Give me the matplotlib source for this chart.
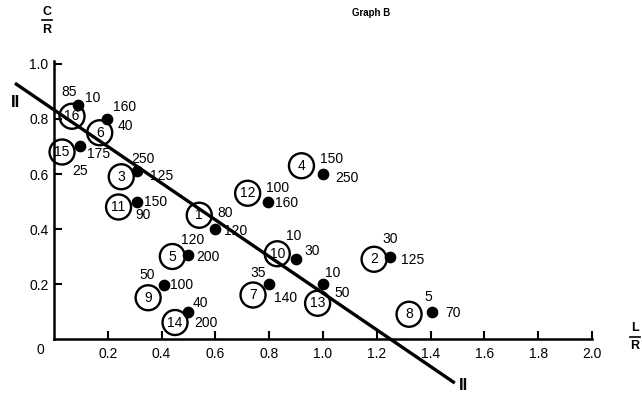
import matplotlib
matplotlib.use("Agg")
import matplotlib.pyplot as plt

# Circled case numbers and the position of each circle
case_ids = ["16", "6", "15", "3", "11", "1", "5", "9", "14", "12", "4", "10", "7", "13", "2", "8"]
circle_x = [0.067, 0.17, 0.03, 0.25, 0.24, 0.54, 0.44, 0.35, 0.45, 0.72, 0.92, 0.83, 0.74, 0.98, 1.19, 1.32]
circle_y = [0.81, 0.75, 0.68, 0.59, 0.48, 0.45, 0.30, 0.15, 0.06, 0.53, 0.63, 0.31, 0.16, 0.13, 0.29, 0.09]

# Data points (L/R, C/R) and their two numeric annotations
dot_x = [0.09, 0.197, 0.097, 0.31, 0.31, 0.60, 0.50, 0.41, 0.50, 0.795, 1.00, 0.90, 0.80, 1.00, 1.25, 1.405]
dot_y = [0.85, 0.80, 0.70, 0.61, 0.50, 0.40, 0.305, 0.196, 0.10, 0.50, 0.60, 0.29, 0.20, 0.20, 0.30, 0.098]
label_a = ["85", "160", "175", "250", "150", "80", "120", "50", "40", "100", "150", "10", "35", "10", "30", "5"]
label_b = ["10", "40", "25", "125", "90", "120", "200", "100", "200", "160", "250", "30", "140", "50", "125", "70"]

# Fitted line II
line_x = [-0.145, 1.49]
line_y = [0.93, -0.16]

x_ticks = [0.2, 0.4, 0.6, 0.8, 1.0, 1.2, 1.4, 1.6, 1.8, 2.0]
y_ticks = [0.2, 0.4, 0.6, 0.8, 1.0]

# label offsets in pixels (layout only)
off_a = [(-9, 13), (18, 12), (18, -8), (6, 12), (18, 0), (10, 16), (4, 15), (-17, 10),
         (12, 9), (10, 14), (9, 15), (-2, 23), (-11, 11), (10, 11), (0, 18), (-4, 15)]
off_b = [(14, 7), (18, -7), (0, -25), (24, -5), (6, -13), (20, -2), (19, -2), (17, 0),
         (17, -11), (19, -1), (24, -4), (16, 8), (16, -14), (19, -9), (22, -3), (21, -1)]

FONT = "Liberation Sans"

fig = plt.figure(figsize=(6.42, 3.98), dpi=100)
ax = fig.add_axes([0, 0, 1, 1])
ax.set_xlim(-0.2007, 2.186)
ax.set_ylim(-0.2145, 1.2327)

for side in ("top", "right"):
    ax.spines[side].set_visible(False)
ax.spines["left"].set_position(("data", 0))
ax.spines["bottom"].set_position(("data", 0))
ax.spines["left"].set_bounds(0, 1.01)
ax.spines["bottom"].set_bounds(0, 2.0)
for side in ("left", "bottom"):
    ax.spines[side].set_linewidth(1.8)

ax.set_xticks(x_ticks)
ax.set_xticklabels([f"{v:.1f}" for v in x_ticks], fontfamily=FONT, fontsize=10)
ax.set_yticks(y_ticks)
ax.set_yticklabels([f"{v:.1f}" for v in y_ticks], fontfamily=FONT, fontsize=10)
ax.tick_params(axis="both", direction="in", length=6, width=1.5, pad=4)
ax.tick_params(axis="x", pad=6)
ax.text(-0.035, -0.015, "0", ha="right", va="top", fontfamily=FONT, fontsize=10)

ax.plot(line_x, line_y, color="black", lw=2.4, solid_capstyle="butt", zorder=2)
ax.text(line_x[0] + 0.02, line_y[0] - 0.07, "II", ha="right", va="center",
        fontsize=12, fontweight="bold", fontfamily=FONT)
ax.text(line_x[1] + 0.015, line_y[1] - 0.01, "II", ha="left", va="center",
        fontsize=12, fontweight="bold", fontfamily=FONT)

ax.scatter(circle_x, circle_y, s=18 ** 2, facecolors="none", edgecolors="black",
           linewidths=1.7, zorder=3)
for cid, cx, cy in zip(case_ids, circle_x, circle_y):
    ax.text(cx, cy, cid, ha="center", va="center", fontsize=10, fontfamily=FONT, zorder=4)

ax.scatter(dot_x, dot_y, s=55, color="black", zorder=5)
for dx, dy, la, lb, oa, ob in zip(dot_x, dot_y, label_a, label_b, off_a, off_b):
    ax.annotate(la, (dx, dy), xytext=oa, textcoords="offset pixels", ha="center",
                va="center", fontsize=10, fontfamily=FONT, zorder=6)
    ax.annotate(lb, (dx, dy), xytext=ob, textcoords="offset pixels", ha="center",
                va="center", fontsize=10, fontfamily=FONT, zorder=6)

# axis titles
ax.text(-0.026, 1.19, "C", ha="center", va="center", fontsize=9, fontweight="bold", fontfamily=FONT)
ax.text(-0.026, 1.125, "R", ha="center", va="center", fontsize=9, fontweight="bold", fontfamily=FONT)
ax.plot([-0.045, -0.007], [1.16, 1.16], color="black", lw=1.2)
ax.text(2.16, 0.04, "L", ha="center", va="center", fontsize=9, fontweight="bold", fontfamily=FONT)
ax.text(2.16, -0.025, "R", ha="center", va="center", fontsize=9, fontweight="bold", fontfamily=FONT)
ax.plot([2.14, 2.18], [0.008, 0.008], color="black", lw=1.2)

ax.text(1.18, 1.185, "Graph B", ha="center", va="center", fontsize=7,
        fontweight="bold", fontfamily=FONT)

fig.savefig("out.png", dpi=100)
